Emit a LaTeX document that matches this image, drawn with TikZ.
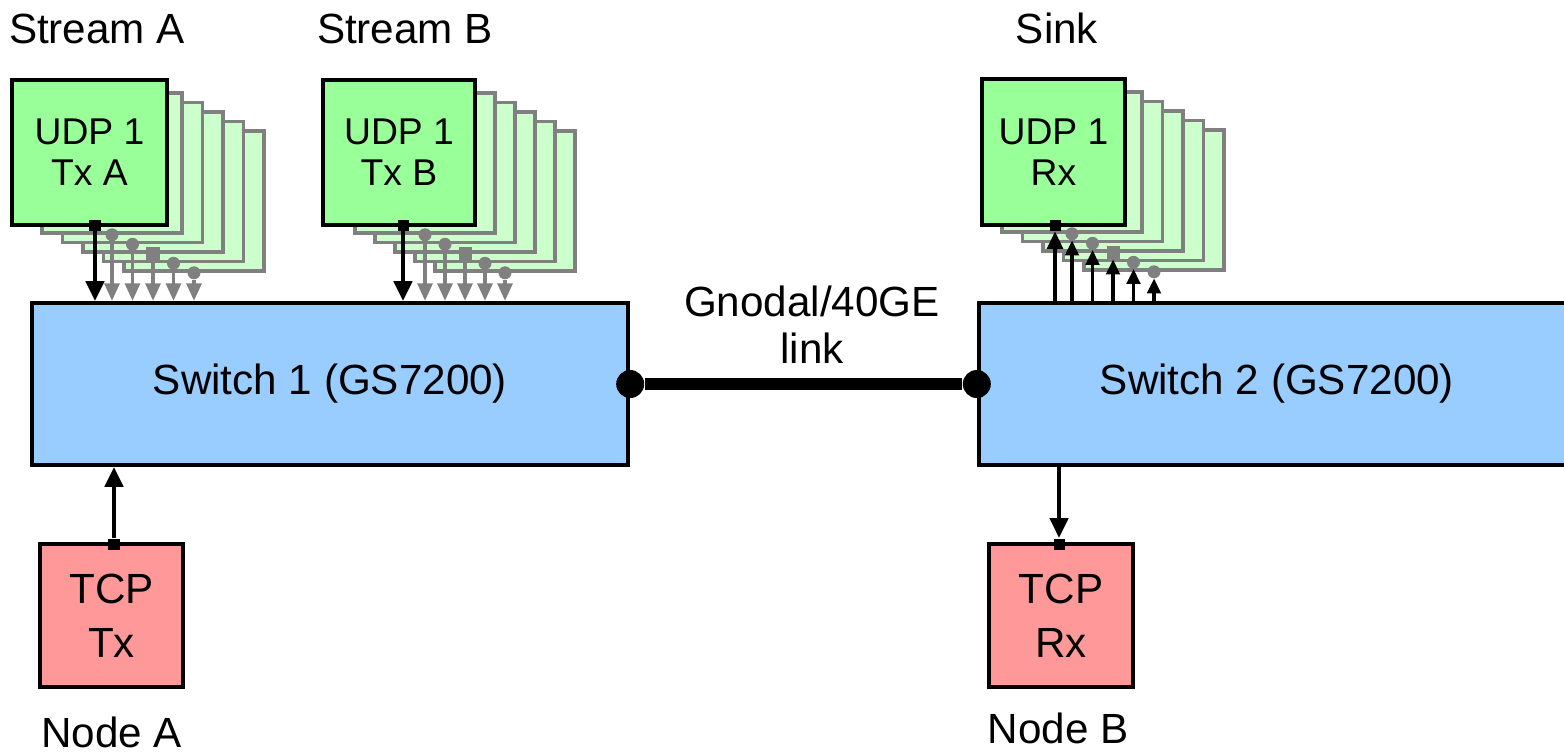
\documentclass[tikz,border=0pt]{standalone}
\usepackage{fontspec}
\setmainfont{Liberation Sans}
\usetikzlibrary{arrows.meta}

\definecolor{udpgreen}{HTML}{99FF99}
\definecolor{udplight}{HTML}{CCFFCC}
\definecolor{swblue}{HTML}{99CCFF}
\definecolor{tcpred}{HTML}{FF9999}
\definecolor{portgray}{HTML}{808080}

\tikzstyle{udpbox} = [draw, line width=1.15pt, fill=udpgreen, inner sep=0pt, align=center, font=\fontsize{10.6pt}{11.7pt}\selectfont]
\tikzstyle{udpback} = [draw=portgray, line width=1pt, fill=udplight, minimum width=1.4cm, minimum height=1.4cm, inner sep=0pt]
\tikzstyle{switch} = [draw, line width=1.15pt, fill=swblue, minimum width=5.96cm, minimum height=1.62cm, inner sep=0pt, font=\fontsize{12pt}{14pt}\selectfont]
\tikzstyle{tcpbox} = [draw, line width=1.15pt, fill=tcpred, minimum width=1.43cm, minimum height=1.43cm, inner sep=0pt, align=center, font=\fontsize{12pt}{15.4pt}\selectfont]
\tikzstyle{port} = [fill, minimum size=0.11cm, inner sep=0pt]
\tikzstyle{gport} = [fill=portgray, minimum size=0.13cm, inner sep=0pt]
\tikzstyle{blob} = [circle, fill, minimum size=0.28cm, inner sep=0pt]
\tikzstyle{trunk} = [line width=3.6pt]
\tikzstyle{flow} = [line width=1.05pt, -{Triangle[length=5.6pt,width=5.2pt]}]
\tikzstyle{gflow} = [line width=1.05pt, draw=portgray, -{Triangle[length=5pt,width=4.2pt]}]
\tikzstyle{rflow} = [line width=1.05pt, -{Triangle[length=4.3pt,width=3.8pt]}]
\tikzstyle{heading} = [inner sep=0pt, anchor=base, font=\fontsize{12pt}{14pt}\selectfont]

\begin{document}
\begin{tikzpicture}[x=0.01cm,y=-0.01cm]
	\useasboundingbox (0,0) rectangle (1564,751);
	\clip (0,0) rectangle (1564,751);

	% the two switches and the link between them
	\node[switch] (sw1) at (330,384) {Switch 1 (GS7200)};
	\node[switch] (sw2) at (1277,384) {Switch 2 (GS7200)};
	\node[blob] (end1) at (sw1.east) {};
	\node[blob] (end2) at (sw2.west) {};
	\draw[trunk] (end1) -- (end2);
	\node[heading, anchor=center, align=center, font=\fontsize{12pt}{13.4pt}\selectfont] (lnk) at (812,325) {Gnodal/40GE\\link};

	% stream A
	\foreach \k in {5,...,1}
		\node[udpback] (sa\k) at ({112+20.5*(\k-1)},{163+9.5*(\k-1)}) {};
	\node[udpbox, minimum width=1.55cm, minimum height=1.45cm] (sa) at (89.5,152.5) {UDP 1\\Tx A};
	\foreach \k/\shp in {1/circle,2/circle,3/rectangle,4/circle,5/circle} {
		\node[gport,\shp] (sap\k) at (sa\k.south) {};
		\draw[gflow] (sap\k) -- (sap\k |- sw1.north);
	}
	\node[port] (sap) at (95,225) {};
	\draw[flow] (sap) -- (sap |- sw1.north);

	% stream B
	\foreach \k in {5,...,1}
		\node[udpback] (sb\k) at ({425+20*(\k-1)},{163+9.5*(\k-1)}) {};
	\node[udpbox, minimum width=1.52cm, minimum height=1.45cm] (sb) at (399,152.5) {UDP 1\\Tx B};
	\foreach \k/\shp in {1/circle,2/circle,3/rectangle,4/circle,5/circle} {
		\node[gport,\shp] (sbp\k) at (sb\k.south) {};
		\draw[gflow] (sbp\k) -- (sbp\k |- sw1.north);
	}
	\node[port] (sbp) at (403,225) {};
	\draw[flow] (sbp) -- (sbp |- sw1.north);

	% sink
	\foreach \k in {5,...,1}
		\node[udpback] (snk\k) at ({1072+20.5*(\k-1)},{162+9.5*(\k-1)}) {};
	\node[udpbox, minimum width=1.43cm, minimum height=1.46cm] (snk) at (1053.5,152) {UDP 1\\Rx};
	\foreach \k/\shp in {1/circle,2/circle,3/rectangle,4/circle,5/circle} {
		\draw[rflow] (snk\k.south |- sw2.north) -- ([yshift=-0.065cm]snk\k.south);
		\node[gport,\shp] (snkp\k) at (snk\k.south) {};
	}
	\node[port] (snkp) at (1055,225) {};
	\draw[rflow, -{Triangle[length=5pt,width=4.4pt]}] (snkp |- sw2.north) -- (snkp);

	% tcp nodes
	\node[tcpbox] (tx) at (111.5,615.5) {TCP\\Tx};
	\node[port] (txp) at (114,544) {};
	\draw[flow] (txp) -- (txp |- sw1.south);
	\node[tcpbox, minimum width=1.44cm] (rx) at (1061,615.5) {TCP\\Rx};
	\node[port] (rxp) at (1059,544) {};
	\draw[flow] (rxp |- sw2.south) -- (rxp);

	% captions
	\node[heading] (capA) at (97,43) {Stream A};
	\node[heading] (capB) at (405,43) {Stream B};
	\node[heading] (capS) at (1057,43) {Sink};
	\node[heading] (nodeA) at (111.5,747) {Node A};
	\node[heading] (nodeB) at (1058,743) {Node B};
\end{tikzpicture}
\end{document}
